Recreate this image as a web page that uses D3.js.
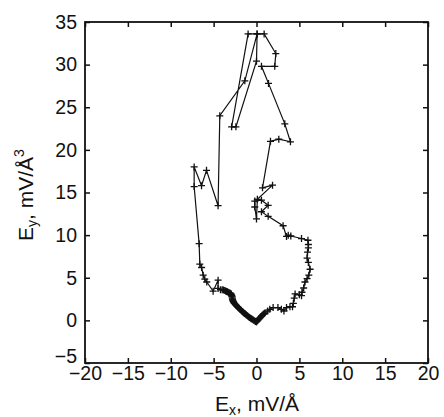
<!DOCTYPE html>
<html>
<head>
<meta charset="utf-8">
<script src="https://cdn.jsdelivr.net/npm/d3@7"></script>
<style>
  body { margin: 0; background: #fff; }
  text { font-family: "Liberation Sans", Arial, sans-serif; fill: #111; }
</style>
</head>
<body>
<div id="chart"></div>
<script>
"use strict";

// loop trace (mV/Å)
var ex = [0, 0.1, 0.2, 0.3, 0.4, 0.5, 0.6, 0.7, 0.8, 0.9, 1.0, 1.3, 1.55, 1.94, 2.5, 2.9, 3.2, 3.5, 3.9, 4.2, 4.3, 4.4, 4.5,
  5.0, 5.25, 5.3, 5.5, 5.65, 5.9, 6.1, 6.25, 6.05, 5.9, 5.95, 6.05, 6.05, 6.0, 5.25, 4.0, 3.7, 3.5,
  3.1, 1.36, 0.58, 1.36, 0.58, -0.2, -0.2, 0, 0.1, 1.87, 0.7, 1.63, 2.6, 3.96, 3.3, 1.4, 0.58, 2.13,
  2.25, 0.89, 0.07, 0, -2.4, -2.9, -0.98, 0.07, -1.36, -4.28, -4.48, -5.83, -6.41, -7.27, -7.27,
  -6.69, -6.61, -6.4, -6.22, -6.03, -5.8, -5.06, -4.48, -4.48,
  -4.2, -4.0, -3.85, -3.7, -3.6, -3.5, -3.4, -3.3, -3.2, -3.1, -3.0, -2.95, -2.9, -2.87, -2.85, -2.82,
  -2.8, -2.78, -2.75, -2.7, -2.65, -2.6, -2.5, -2.45, -2.4, -2.3, -2.2, -2.1, -2.0, -1.9, -1.8, -1.7,
  -1.6, -1.5, -1.4, -1.3, -1.2, -1.1, -1.0, -0.9, -0.8, -0.7, -0.6, -0.5, -0.4, -0.3, -0.2, -0.1, 0];
var ey = [-0.15, -0.05, 0.05, 0.18, 0.3, 0.42, 0.52, 0.62, 0.72, 0.8, 0.88, 1.1, 1.3, 1.5, 1.5, 1.3, 1.1, 1.5, 1.6, 1.6, 2.0, 2.6, 3.1,
  3.0, 2.9, 3.3, 3.8, 4.5, 4.9, 5.3, 6.0, 6.8, 7.3, 8.0, 8.5, 8.9, 9.4, 9.6, 9.9, 10.0, 9.85,
  11.1, 12.2, 12.74, 13.5, 14.1, 14.0, 13.3, 11.9, 14.2, 15.86, 15.55, 21.0, 21.25, 20.95, 23.05, 27.8, 29.8, 29.8,
  31.3, 33.6, 33.6, 30.4, 22.7, 22.7, 33.6, 33.6, 28.1, 24.0, 13.45, 17.6, 15.8, 18.0, 15.7,
  9.0, 6.6, 6.2, 5.3, 4.84, 4.5, 3.43, 4.72, 3.75,
  3.6, 3.58, 3.55, 3.5, 3.45, 3.4, 3.35, 3.3, 3.25, 3.2, 3.15, 3.05, 2.95, 2.85, 2.75, 2.6,
  2.5, 2.4, 2.3, 2.2, 2.1, 2.0, 1.9, 1.85, 1.78, 1.68, 1.58, 1.48, 1.38, 1.28, 1.18, 1.08,
  0.98, 0.9, 0.82, 0.74, 0.65, 0.56, 0.48, 0.4, 0.33, 0.26, 0.19, 0.12, 0.06, 0.0, -0.06, -0.12, -0.15];

var xTicks = [-20, -15, -10, -5, 0, 5, 10, 15, 20];
var yTicks = [-5, 0, 5, 10, 15, 20, 25, 30, 35];

var pts = ex.map(function(v, i) { return [v, ey[i]]; });

var W = 444, H = 417;
var pl = 85, pr = 428, pt = 22, pb = 363;

var svg = d3.select("#chart").append("svg")
  .attr("width", W).attr("height", H);

var x = d3.scaleLinear().domain([-20, 20]).range([pl, pr]);
var y = d3.scaleLinear().domain([-5, 35]).range([pb, pt]);

// axes, ticks pointing inward like the original
var fmt = d3.format("");
svg.append("g").attr("transform", "translate(0," + pb + ")")
  .call(d3.axisBottom(x).tickValues(xTicks).tickSizeInner(-5).tickSizeOuter(0).tickPadding(3).tickFormat(fmt))
  .call(function(g) { g.select(".domain").remove(); });
svg.append("g").attr("transform", "translate(0," + pt + ")")
  .call(d3.axisTop(x).tickValues(xTicks).tickSizeInner(-5).tickSizeOuter(0).tickFormat(""))
  .call(function(g) { g.select(".domain").remove(); });
svg.append("g").attr("class", "yax").attr("transform", "translate(" + pl + ",0)")
  .call(d3.axisLeft(y).tickValues(yTicks).tickSizeInner(-5).tickSizeOuter(0).tickPadding(8).tickFormat(fmt))
  .call(function(g) { g.select(".domain").remove(); });
svg.append("g").attr("transform", "translate(" + pr + ",0)")
  .call(d3.axisRight(y).tickValues(yTicks).tickSizeInner(-5).tickSizeOuter(0).tickFormat(""))
  .call(function(g) { g.select(".domain").remove(); });

svg.selectAll(".tick line").attr("stroke", "#111").attr("stroke-width", 1.5);
svg.selectAll(".tick text").style("font-size", "19.5px").attr("fill", "#111")
  .style("font-family", "'Liberation Sans', Arial, sans-serif");

// the -5 label sits a bit high, as in the original
svg.selectAll(".yax .tick text").filter(function(d) { return d === -5; })
  .attr("dy", "-0.05em");

svg.append("rect")
  .attr("x", pl).attr("y", pt)
  .attr("width", pr - pl).attr("height", pb - pt)
  .attr("fill", "none").attr("stroke", "#111").attr("stroke-width", 1.8);

// trace
var line = d3.line().x(function(d) { return x(d[0]); }).y(function(d) { return y(d[1]); });
svg.append("path").datum(pts)
  .attr("d", line)
  .attr("fill", "none").attr("stroke", "#111").attr("stroke-width", 1.2);

svg.selectAll(".mk").data(pts).enter().append("path")
  .attr("class", "mk")
  .attr("transform", function(d) { return "translate(" + x(d[0]) + "," + y(d[1]) + ")"; })
  .attr("d", "M-3.5,0H3.5M0,-3.5V3.5")
  .attr("stroke", "#111").attr("stroke-width", 1.3);

// axis titles
var xt = svg.append("text")
  .attr("x", 257).attr("y", 411)
  .attr("text-anchor", "middle").style("font-size", "21px");
xt.append("tspan").text("E");
xt.append("tspan").attr("dy", 4).style("font-size", "14px").text("x");
xt.append("tspan").attr("dy", -4).text(", mV/Å");

var yt = svg.append("text")
  .attr("transform", "translate(33,195) rotate(-90)")
  .attr("text-anchor", "middle").style("font-size", "21px");
yt.append("tspan").text("E");
yt.append("tspan").attr("dy", 4).style("font-size", "14px").text("y");
yt.append("tspan").attr("dy", -4).text(", mV/Å");
yt.append("tspan").attr("dy", -9).style("font-size", "14px").text("3");
</script>
</body>
</html>
